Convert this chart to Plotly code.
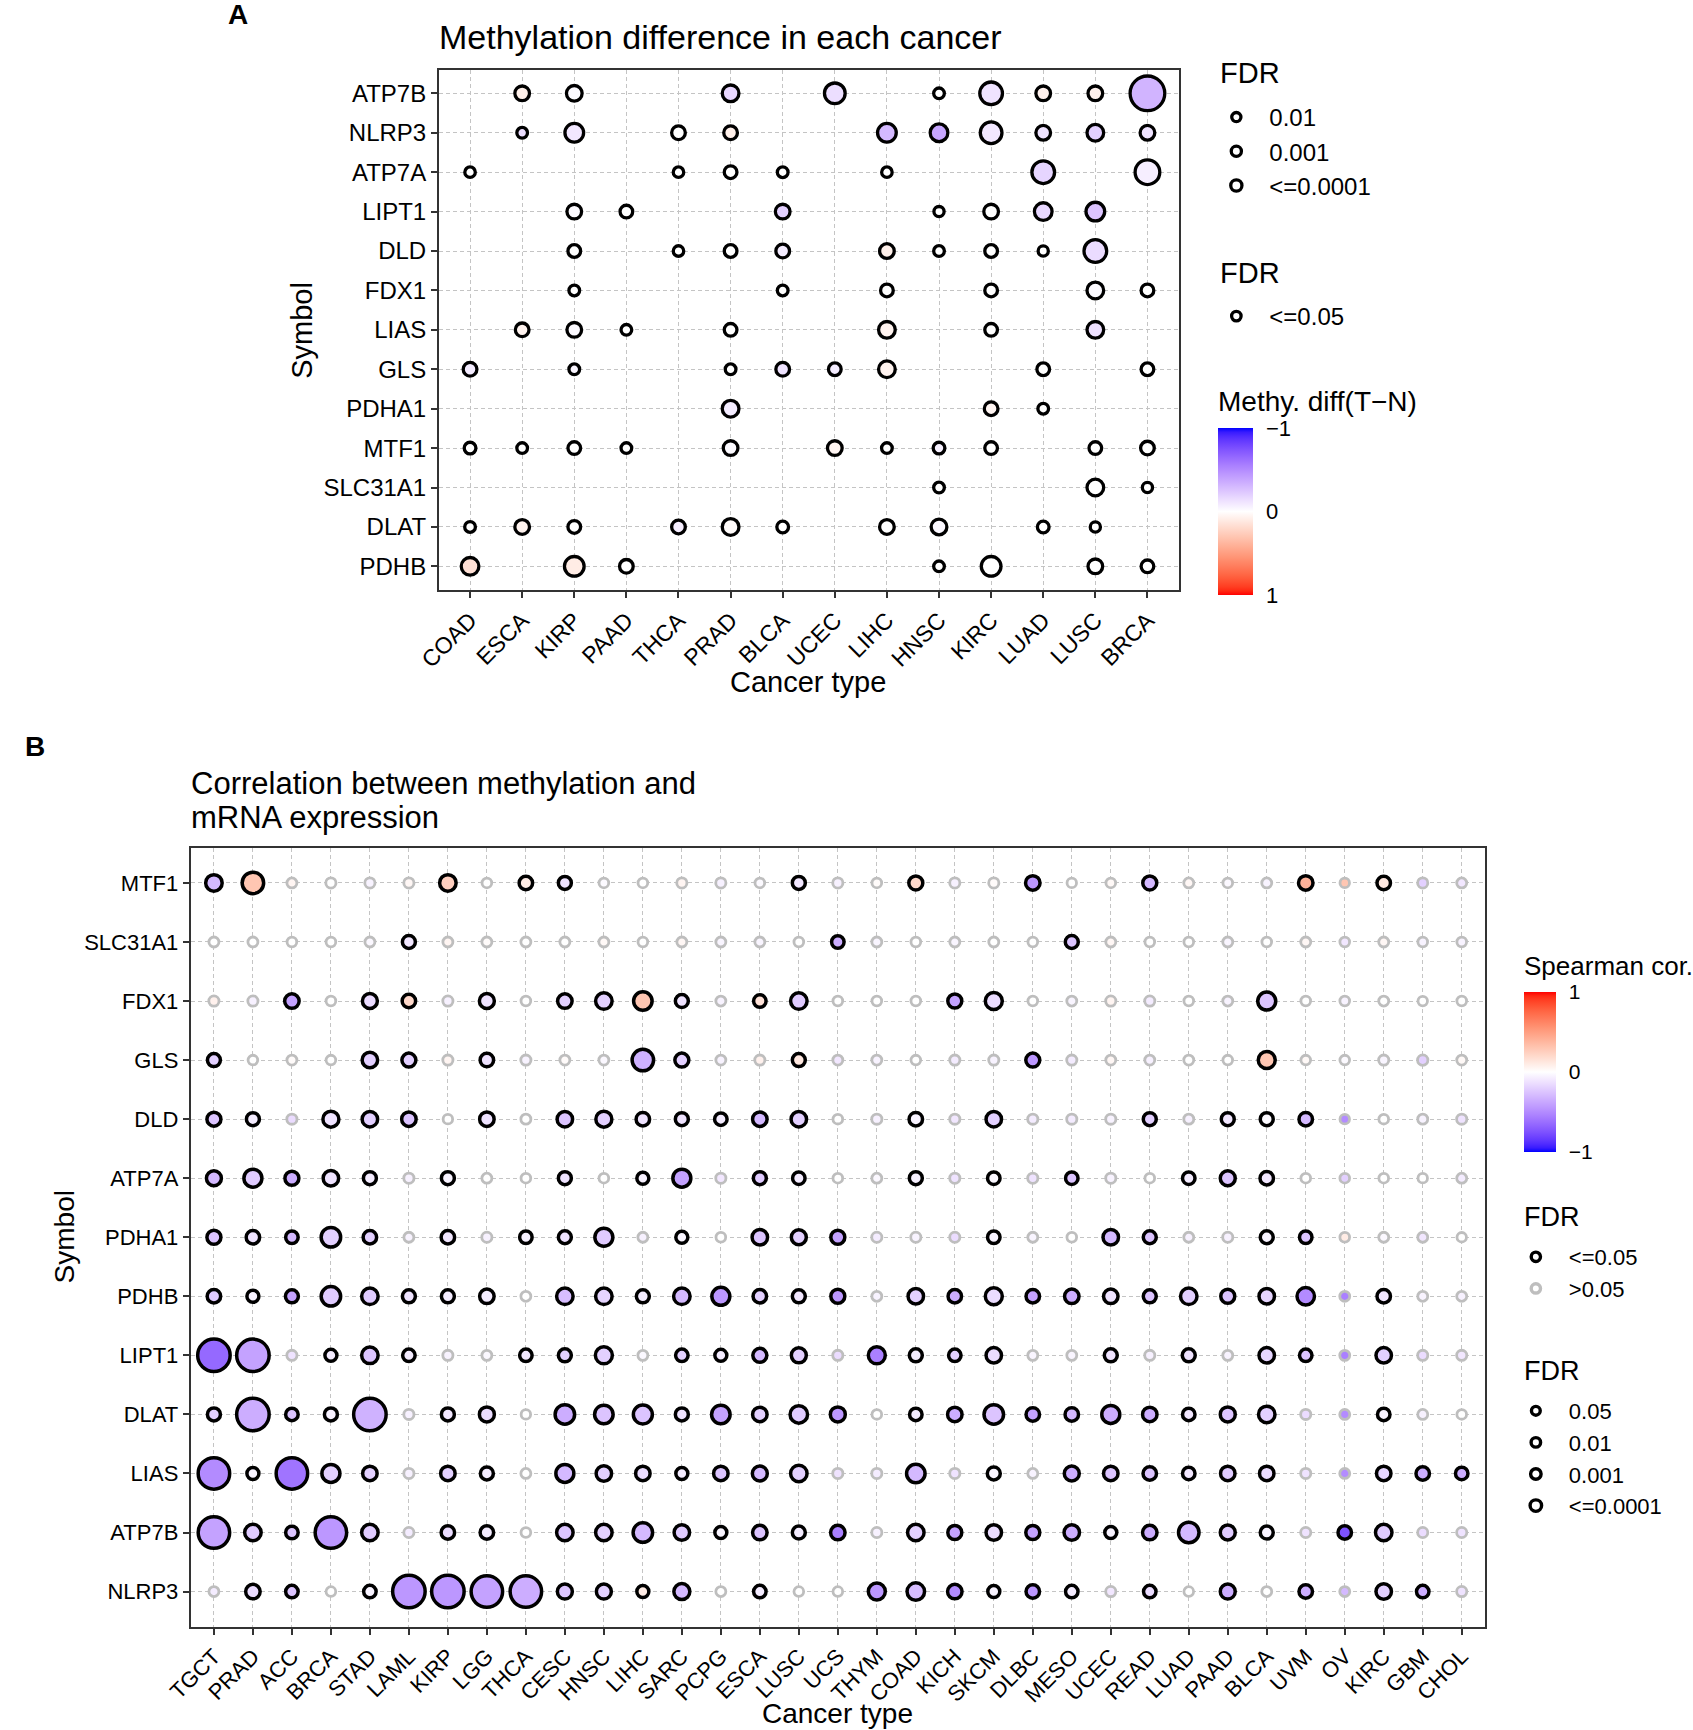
import math
import plotly.graph_objects as go

# ---------------- data: panel A (methylation difference) ----------------
genes_A = ["ATP7B", "NLRP3", "ATP7A", "LIPT1", "DLD", "FDX1", "LIAS", "GLS",
           "PDHA1", "MTF1", "SLC31A1", "DLAT", "PDHB"]
cancers_A = ["COAD", "ESCA", "KIRP", "PAAD", "THCA", "PRAD", "BLCA", "UCEC",
             "LIHC", "HNSC", "KIRC", "LUAD", "LUSC", "BRCA"]
N = None
diff_A = [
    [N, 0.08, -0.02, N, N, -0.17, N, -0.14, N, 0.00, -0.12, 0.07, 0.07, -0.32],
    [N, -0.14, -0.10, N, 0.00, 0.08, N, N, -0.30, -0.38, -0.10, -0.12, -0.20, -0.12],
    [0.00, N, N, N, 0.00, 0.00, 0.00, N, 0.00, N, N, -0.18, N, -0.07],
    [N, N, -0.02, 0.00, N, N, -0.20, N, N, 0.00, 0.00, -0.17, -0.25, N],
    [N, N, 0.00, N, 0.00, 0.00, -0.08, N, 0.08, 0.00, 0.00, 0.00, -0.15, N],
    [N, N, 0.00, N, N, N, 0.00, N, 0.00, N, 0.00, N, -0.02, 0.00],
    [N, 0.06, -0.02, 0.00, N, 0.00, N, N, 0.06, N, 0.00, N, -0.13, N],
    [-0.08, N, -0.04, N, N, 0.00, -0.12, -0.08, 0.06, N, N, 0.00, N, 0.00],
    [N, N, N, N, N, -0.08, N, N, N, N, 0.05, 0.00, N, N],
    [0.00, 0.00, 0.00, 0.00, N, -0.02, N, 0.05, 0.00, -0.06, 0.00, N, 0.00, 0.00],
    [N, N, N, N, N, N, N, N, N, 0.00, N, N, 0.00, 0.00],
    [0.00, 0.06, 0.00, N, -0.07, 0.02, 0.00, N, 0.00, -0.03, N, 0.00, 0.00, N],
    [0.16, N, 0.10, 0.00, N, N, N, N, N, 0.00, 0.00, N, 0.00, 0.00],
]
# -log10(FDR)
neglogfdr_A = [
    [N, 6, 7, N, N, 8, N, 12, N, 2, 14, 6, 6, 26],
    [N, 2, 10, N, 5, 5, N, N, 10, 9, 13, 6, 8, 6],
    [1.8, N, N, N, 1.8, 4, 2, N, 1.8, N, N, 14, N, 16],
    [N, N, 6, 4, N, N, 6, N, N, 1.5, 6, 9, 10, N],
    [N, N, 4, N, 1.8, 4, 5, N, 6, 2, 4, 1.5, 14, N],
    [N, N, 2, N, N, N, 2, N, 4, N, 4, N, 8, 4],
    [N, 5, 6, 2, N, 4, N, N, 8, N, 4, N, 8, N],
    [5, N, 2, N, N, 2, 5, 4, 8, N, N, 4, N, 4],
    [N, N, N, N, N, 8, N, N, N, N, 5, 2, N, N],
    [3, 2, 4, 2, N, 6, N, 6, 2, 3, 4, N, 4, 5],
    [N, N, N, N, N, N, N, N, N, 2, N, N, 8, 1.5],
    [2, 6, 4, N, 5, 8, 3, N, 6, 7, N, 3, 1.5, N],
    [9, N, 11, 5, N, N, N, N, N, 2, 11, N, 6, 4],
]
fdr_breaks_A1 = [0.01, 0.001, 0.0001]
fdr_labels_A1 = ["0.01", "0.001", "<=0.0001"]
fdr_labels_A2 = ["<=0.05"]

# ---------------- data: panel B (methylation vs mRNA correlation) ----------------
genes_B = ["MTF1", "SLC31A1", "FDX1", "GLS", "DLD", "ATP7A", "PDHA1", "PDHB",
           "LIPT1", "DLAT", "LIAS", "ATP7B", "NLRP3"]
cancers_B = ["TGCT", "PRAD", "ACC", "BRCA", "STAD", "LAML", "KIRP", "LGG", "THCA",
             "CESC", "HNSC", "LIHC", "SARC", "PCPG", "ESCA", "LUSC", "UCS", "THYM",
             "COAD", "KICH", "SKCM", "DLBC", "MESO", "UCEC", "READ", "LUAD", "PAAD",
             "BLCA", "UVM", "OV", "KIRC", "GBM", "CHOL"]
cor_B = [
    [-0.30, 0.30, 0.05, 0.00, -0.05, 0.04, 0.25, 0.00, 0.10, -0.12, -0.02, 0.00, 0.05, -0.06, -0.02, -0.10, -0.06,
     0.02, 0.20, -0.06, 0.02, -0.45, 0.00, 0.03, -0.30, 0.04, -0.03, -0.05, 0.40, 0.30, 0.12, -0.20, -0.10],
    [0.00, 0.00, 0.00, 0.00, -0.03, -0.10, 0.05, 0.02, 0.00, 0.00, 0.03, 0.00, 0.04, -0.04, -0.04, 0.00, -0.35,
     -0.04, 0.00, -0.04, 0.00, 0.00, -0.25, 0.04, 0.00, 0.00, -0.04, 0.00, 0.04, -0.10, 0.04, -0.05, -0.05],
    [0.07, -0.06, -0.40, 0.00, -0.15, 0.20, -0.06, -0.12, 0.00, -0.20, -0.20, 0.30, -0.12, -0.05, 0.15, -0.22, 0.00,
     0.00, 0.00, -0.40, -0.15, 0.00, -0.04, 0.05, -0.08, 0.00, -0.05, -0.25, 0.00, -0.05, 0.00, 0.00, 0.00],
    [-0.20, 0.00, 0.02, 0.00, -0.20, -0.20, 0.05, -0.12, -0.05, 0.02, -0.03, -0.33, -0.20, -0.05, 0.07, 0.12, -0.10,
     -0.05, 0.00, -0.08, -0.05, -0.45, -0.08, 0.04, -0.06, 0.00, 0.00, 0.30, 0.03, -0.02, -0.04, -0.20, 0.03],
    [-0.25, -0.08, -0.15, -0.12, -0.20, -0.25, 0.00, -0.12, 0.00, -0.25, -0.20, -0.12, -0.12, -0.08, -0.30, -0.20, 0.00,
     -0.06, -0.05, -0.10, -0.20, -0.08, -0.08, -0.05, -0.20, -0.06, -0.10, -0.02, -0.30, -0.50, 0.00, -0.05, -0.12],
    [-0.30, -0.22, -0.35, -0.12, -0.08, -0.06, -0.05, 0.00, 0.00, -0.12, 0.00, -0.06, -0.40, -0.10, -0.22, -0.08, 0.00,
     -0.03, -0.06, -0.12, -0.03, -0.12, -0.25, -0.05, 0.00, -0.08, -0.25, -0.10, 0.00, -0.20, 0.00, 0.00, -0.08],
    [-0.25, -0.12, -0.30, -0.20, -0.20, -0.05, -0.10, -0.06, -0.06, -0.12, -0.22, -0.06, -0.04, 0.00, -0.25, -0.20, -0.40,
     -0.08, -0.05, -0.15, -0.05, -0.04, 0.00, -0.30, -0.25, -0.06, -0.06, -0.05, -0.25, 0.10, -0.03, -0.10, 0.00],
    [-0.22, -0.06, -0.40, -0.22, -0.22, -0.12, -0.08, -0.08, 0.00, -0.28, -0.18, -0.08, -0.30, -0.45, -0.20, -0.10, -0.45,
     -0.05, -0.20, -0.35, -0.15, -0.40, -0.35, -0.12, -0.25, -0.20, -0.25, -0.18, -0.50, -0.55, -0.10, -0.05, -0.06],
    [-0.65, -0.40, -0.12, -0.08, -0.25, -0.08, -0.05, -0.03, -0.10, -0.20, -0.20, -0.03, -0.20, -0.08, -0.30, -0.20, -0.15,
     -0.55, -0.08, -0.20, -0.15, -0.04, -0.04, -0.12, -0.06, -0.12, -0.05, -0.18, -0.25, -0.55, -0.20, -0.15, -0.10],
    [-0.20, -0.35, -0.25, -0.06, -0.33, -0.06, -0.10, -0.15, 0.00, -0.35, -0.25, -0.25, -0.12, -0.40, -0.20, -0.22, -0.45,
     0.00, -0.08, -0.35, -0.25, -0.40, -0.30, -0.35, -0.35, -0.10, -0.25, -0.20, -0.15, -0.50, -0.05, -0.06, 0.00],
    [-0.50, -0.05, -0.60, -0.20, -0.20, -0.06, -0.20, -0.08, 0.00, -0.30, -0.20, -0.15, -0.08, -0.25, -0.30, -0.20, -0.12,
     -0.08, -0.30, -0.12, -0.04, -0.05, -0.35, -0.25, -0.25, -0.10, -0.22, -0.15, -0.12, -0.50, -0.18, -0.35, -0.35],
    [-0.40, -0.22, -0.25, -0.45, -0.22, -0.08, -0.15, -0.08, 0.00, -0.25, -0.20, -0.30, -0.22, -0.04, -0.25, -0.08, -0.55,
     -0.06, -0.20, -0.40, -0.15, -0.40, -0.35, -0.05, -0.35, -0.30, -0.22, -0.05, -0.12, -0.75, -0.22, -0.15, -0.12],
    [-0.08, -0.15, -0.25, 0.00, -0.05, -0.45, -0.45, -0.40, -0.35, -0.25, -0.20, 0.10, -0.30, 0.00, -0.08, 0.00, 0.00,
     -0.45, -0.28, -0.50, -0.05, -0.45, -0.08, -0.10, -0.15, 0.00, -0.35, 0.00, -0.35, -0.30, -0.20, -0.35, -0.12],
]
neglogfdr_B = [
    [8, 13, 0.8, 1.0, 1.0, 1.0, 8, 0.5, 5, 4.5, 0.5, 0.5, 1.0, 1.0, 0.5, 4.5, 1.0,
     0.5, 5.5, 1.0, 1.0, 6, 0.3, 0.5, 5.5, 0.8, 0.5, 0.8, 6, 0.3, 5, 1.0, 0.8],
    [0.8, 0.8, 0.5, 0.5, 0.8, 4.5, 0.8, 0.8, 0.8, 0.8, 0.8, 0.5, 0.8, 0.8, 0.8, 0.5, 4,
     0.8, 0.5, 0.8, 0.8, 0.5, 4.5, 0.8, 0.5, 0.5, 0.8, 0.5, 0.8, 0.5, 0.8, 0.5, 0.5],
    [1.0, 1.0, 6, 0.5, 6.5, 5, 1.0, 6.5, 0.5, 6, 8, 10, 4.5, 0.8, 4, 8, 0.5,
     0.5, 0.5, 5.5, 8.5, 0.5, 0.8, 1.0, 1.0, 0.5, 0.8, 9.5, 0.5, 0.5, 0.8, 0.3, 0.5],
    [4.5, 0.5, 0.8, 0.5, 7, 5.5, 1.0, 5, 1.0, 0.8, 0.8, 13, 5.5, 0.8, 1.0, 4.5, 0.8,
     0.8, 0.5, 1.0, 1.0, 5.5, 1.0, 0.8, 0.8, 0.8, 0.5, 8.5, 0.5, 0.5, 1.0, 1.2, 0.8],
    [5.5, 4.5, 1.0, 7.5, 7, 6, 0.3, 6, 0.8, 7, 7.5, 5, 4.5, 4, 6, 7, 0.5,
     1.0, 5, 1.0, 7, 1.0, 1.0, 1.0, 4.5, 0.8, 4.5, 4.5, 5, 0.3, 0.5, 0.8, 1.0],
    [6.5, 9.5, 5.5, 7, 4.5, 1.0, 4.5, 0.8, 0.5, 4.5, 0.5, 3.5, 9.5, 1.0, 4.5, 4, 0.5,
     0.8, 4.5, 1.0, 4, 1.0, 4, 1.0, 0.5, 4, 6.5, 5, 0.5, 0.5, 0.5, 0.3, 0.8],
    [5.5, 5, 4, 11, 5, 0.8, 5, 1.0, 4, 4.5, 9.5, 0.8, 3.5, 0.5, 7, 6.5, 5.5,
     1.0, 1.0, 1.0, 4, 0.8, 0.5, 7, 4.5, 0.8, 1.0, 4.5, 4, 0.5, 0.8, 0.8, 0.3],
    [5, 3.5, 4.5, 11, 8, 4.5, 4.5, 6, 0.8, 8, 8, 4.5, 8, 9.5, 5, 4.5, 5.5,
     0.8, 7, 5, 8.5, 5, 6, 6, 4.5, 8, 5.5, 7, 9, 0.8, 5, 0.8, 0.8],
    [24, 24, 1.0, 3.5, 8, 4, 1.0, 0.8, 4, 4.5, 8.5, 0.8, 4, 3.5, 5.5, 6.5, 1.0,
     8.5, 4.5, 4, 7, 0.8, 0.8, 4.5, 1.0, 4.5, 0.8, 7, 4, 0.8, 7, 1.0, 1.0],
    [4.5, 24, 4, 4.5, 24, 1.0, 4.5, 6.5, 0.3, 11, 10, 10.5, 4.5, 10, 6, 9, 6.5,
     0.5, 4, 6, 11, 5, 5, 9.5, 6, 4, 6.5, 8, 1.0, 0.8, 4, 0.8, 0.5],
    [23, 3.5, 23, 9.5, 6, 1.0, 6, 4.5, 0.8, 9.5, 7, 6, 3.5, 6, 6.5, 8, 1.0,
     1.0, 10, 1.0, 4.5, 0.8, 6.5, 6, 5, 4, 6, 6, 1.0, 0.8, 6, 5, 4],
    [23, 8, 4, 23, 8, 1.0, 5, 5, 0.5, 8, 8, 11, 7, 3.5, 6, 4.5, 6,
     1.0, 8, 5.5, 7, 5.5, 7, 3.5, 6, 12, 6.5, 4.5, 1.0, 5, 8, 1.0, 1.0],
    [0.8, 6, 4, 0.5, 4, 24, 24, 23, 23, 6.5, 6.5, 3.5, 7.5, 0.8, 4, 0.5, 0.5,
     8.5, 9, 6, 3.5, 5, 4, 1.0, 4, 0.5, 6.5, 0.8, 5, 0.8, 7, 4, 1.0],
]
sig_labels_B = ["<=0.05", ">0.05"]
fdr_breaks_B = [0.05, 0.01, 0.001, 0.0001]
fdr_labels_B = ["0.05", "0.01", "0.001", "<=0.0001"]

# ---------------- styling helpers ----------------
W, H = 1693, 1730
FONT = "Liberation Sans, Arial, Helvetica, sans-serif"
SIG_LEVEL = -math.log10(0.05)


def px_x(x):
    return x / W


def px_y(y):
    return 1 - y / H


def _hex_rgb(h):
    h = h.lstrip("#")
    return [int(h[i:i + 2], 16) / 255 for i in (0, 2, 4)]


def _lin(c):
    return c / 12.92 if c <= 0.04045 else ((c + 0.055) / 1.055) ** 2.4


def _gam(c):
    c = 12.92 * c if c <= 0.0031308 else 1.055 * c ** (1 / 2.4) - 0.055
    return min(1, max(0, c))


def _f(t):
    d = 6 / 29
    return t ** (1 / 3) if t > d ** 3 else t / (3 * d * d) + 4 / 29


def _finv(t):
    d = 6 / 29
    return t ** 3 if t > d else 3 * d * d * (t - 4 / 29)


def to_lab(h):
    r, g, b = [_lin(c) for c in _hex_rgb(h)]
    X = (0.4124564 * r + 0.3575761 * g + 0.1804375 * b) / 0.95047
    Y = 0.2126729 * r + 0.7151522 * g + 0.0721750 * b
    Z = (0.0193339 * r + 0.1191920 * g + 0.9503041 * b) / 1.08883
    fx, fy, fz = _f(X), _f(Y), _f(Z)
    return (116 * fy - 16, 500 * (fx - fy), 200 * (fy - fz))


def from_lab(L, a, b):
    fy = (L + 16) / 116
    fx = fy + a / 500
    fz = fy - b / 200
    X, Y, Z = _finv(fx) * 0.95047, _finv(fy), _finv(fz) * 1.08883
    r = 3.2404542 * X - 1.5371385 * Y - 0.4985314 * Z
    g = -0.9692660 * X + 1.8760108 * Y + 0.0415560 * Z
    bb = 0.0556434 * X - 0.2040259 * Y + 1.0572252 * Z
    return "rgb(%d,%d,%d)" % tuple(round(_gam(c) * 255) for c in (r, g, bb))


LAB_LOW, LAB_MID, LAB_HIGH = to_lab("#0000FF"), to_lab("#FFFFFF"), to_lab("#FF0000")


def div_color(v):
    end = LAB_LOW if v < 0 else LAB_HIGH
    t = min(1.0, abs(v))
    return from_lab(*[m + (e - m) * t for m, e in zip(LAB_MID, end)])


NSTOP = 40
# panel B colour value = correlation (-1 bottom, 1 top)
scale_B = [[k / NSTOP, div_color(-1 + 2 * k / NSTOP)] for k in range(NSTOP + 1)]
# panel A colour value = -difference so that -1 sits at the top of the bar
scale_A = [[k / NSTOP, div_color(1 - 2 * k / NSTOP)] for k in range(NSTOP + 1)]


def outer_diam(nl):
    return 12.0 + nl


LW_A = 3.3
LW_B_SIG = 3.5
LW_B_NS = 2.8
GREY = "#BEBEBE"

fig = go.Figure()

# ---------------- panel A points ----------------
xa, ya, ca, sa, ta = [], [], [], [], []
for i, g in enumerate(genes_A):
    for j, c in enumerate(cancers_A):
        v = diff_A[i][j]
        if v is None:
            continue
        xa.append(c)
        ya.append(g)
        ca.append(-v)
        sa.append(outer_diam(neglogfdr_A[i][j]) - LW_A)
        ta.append("%s %s: diff=%.2f" % (g, c, v))

fig.add_trace(go.Scatter(
    x=xa, y=ya, mode="markers", xaxis="x", yaxis="y", showlegend=False,
    text=ta, hoverinfo="text",
    marker=dict(
        size=sa, color=ca, colorscale=scale_A, cmin=-1, cmax=1, opacity=1,
        line=dict(color="black", width=LW_A),
        showscale=True,
        colorbar=dict(
            x=px_x(1211), xanchor="left", xpad=0,
            y=px_y(428), yanchor="top", ypad=0,
            len=167, lenmode="pixels", thickness=35, thicknessmode="pixels",
            tickvals=[-1, 0, 1], ticktext=["1", "0", "\u22121"],
            ticks="outside", ticklen=9, tickcolor="rgba(0,0,0,0)",
            tickfont=dict(size=22, family=FONT, color="black"),
            outlinewidth=0,
        ),
    ),
))

# ---------------- panel B points ----------------
xb, yb, cb, sb, lwb, lcb, tb = [], [], [], [], [], [], []
for i, g in enumerate(genes_B):
    for j, c in enumerate(cancers_B):
        nl = neglogfdr_B[i][j]
        sig = nl >= SIG_LEVEL
        lw = LW_B_SIG if sig else LW_B_NS
        xb.append(c)
        yb.append(g)
        cb.append(cor_B[i][j])
        sb.append(outer_diam(nl) - lw)
        lwb.append(lw)
        lcb.append("black" if sig else GREY)
        tb.append("%s %s: cor=%.2f" % (g, c, cor_B[i][j]))

fig.add_trace(go.Scatter(
    x=xb, y=yb, mode="markers", xaxis="x2", yaxis="y2", showlegend=False,
    text=tb, hoverinfo="text",
    marker=dict(
        size=sb, color=cb, colorscale=scale_B, cmin=-1, cmax=1, opacity=1,
        line=dict(color=lcb, width=lwb),
        showscale=True,
        colorbar=dict(
            x=px_x(1521), xanchor="left", xpad=0,
            y=px_y(992), yanchor="top", ypad=0,
            len=160, lenmode="pixels", thickness=32, thicknessmode="pixels",
            tickvals=[-1, 0, 1], ticktext=["\u22121", "0", "1"],
            ticks="outside", ticklen=9, tickcolor="rgba(0,0,0,0)",
            tickfont=dict(size=21, family=FONT, color="black"),
            outlinewidth=0,
        ),
    ),
))

# ---------------- legend entries ----------------
def legend_entry(name, legend, size, lw, color, axes):
    fig.add_trace(go.Scatter(
        x=[None], y=[None], mode="markers", name=name, legend=legend,
        legendgroup=legend + name,
        xaxis=axes[0], yaxis=axes[1], showlegend=True, hoverinfo="skip",
        marker=dict(size=size, color="white", opacity=1,
                    line=dict(color=color, width=lw)),
    ))


for f, lab in zip(fdr_breaks_A1, fdr_labels_A1):
    legend_entry(lab, "legend", outer_diam(-math.log10(f)) - LW_A - 1.5, 3.3, "black", ("x", "y"))
for lab in fdr_labels_A2:
    legend_entry(lab, "legend2", outer_diam(SIG_LEVEL) - LW_A - 0.5, 3.3, "black", ("x", "y"))
for lab, col in zip(sig_labels_B, ["black", GREY]):
    legend_entry(lab, "legend3", outer_diam(SIG_LEVEL) - LW_B_SIG - 0.5, 3.4, col, ("x2", "y2"))
for f, lab in zip(fdr_breaks_B, fdr_labels_B):
    legend_entry(lab, "legend4", outer_diam(-math.log10(f)) - LW_B_SIG - 1, 3.4, "black", ("x2", "y2"))


def legend_box(x_left, y_top, fsize, gap):
    return dict(
        font=dict(size=fsize, family=FONT, color="black"),
        x=px_x(x_left), xanchor="left", y=px_y(y_top), yanchor="top",
        bgcolor="rgba(0,0,0,0)", borderwidth=0, itemsizing="trace",
        itemwidth=56, traceorder="normal", tracegroupgap=gap,
    )


# ---------------- axes ----------------
def cat_axis(cats, domain, anchor, tick_size, angle=None, reverse=False):
    n = len(cats)
    rng = [n - 0.4, -0.6] if reverse else [-0.6, n - 0.4]
    d = dict(
        domain=domain, anchor=anchor, type="category",
        categoryorder="array", categoryarray=cats, range=rng,
        showgrid=True, gridcolor="#C4C4C4", gridwidth=1, griddash="4px,3px",
        showline=True, mirror=True, linecolor="#333333", linewidth=1.6,
        ticks="outside", ticklen=6, tickwidth=1.5, tickcolor="#333333",
        tickfont=dict(size=tick_size, family=FONT, color="black"),
        zeroline=False, fixedrange=True,
    )
    if angle is not None:
        d["tickangle"] = angle
    return d


fig.update_layout(
    width=W, height=H,
    margin=dict(l=0, r=0, t=0, b=0),
    paper_bgcolor="white", plot_bgcolor="white",
    font=dict(family=FONT, color="black"),
    xaxis=cat_axis(cancers_A, [px_x(420), px_x(1171)], "y", 23, angle=-45),
    yaxis=cat_axis(genes_A, [px_y(590), px_y(69.7)], "x", 24, reverse=True),
    xaxis2=cat_axis(cancers_B, [px_x(168), px_x(1482)], "y2", 22, angle=-45),
    yaxis2=cat_axis(genes_B, [px_y(1627), px_y(847.5)], "x2", 22, reverse=True),
    legend=legend_box(1196, 95, 24, 4),
    legend2=legend_box(1196, 294, 24, 4),
    legend3=legend_box(1500, 1236, 22, 2),
    legend4=legend_box(1500, 1390, 22, 2),
    hovermode="closest",
)

# ---------------- text annotations ----------------
def note(text, x, y, size, xanchor="left", yanchor="middle", angle=0, bold=False):
    fig.add_annotation(
        text="<b>%s</b>" % text if bold else text,
        x=px_x(x), y=px_y(y), xref="paper", yref="paper",
        xanchor=xanchor, yanchor=yanchor, textangle=angle, showarrow=False,
        font=dict(size=size, family=FONT, color="black"),
    )


note("A", 216, 15, 28, xanchor="center", bold=True)
note("Methylation difference in each cancer", 418, 37, 34)
note("Symbol", 281, 330, 29, xanchor="center", angle=-90)
note("Cancer type", 795, 682, 29, xanchor="center")
note("FDR", 1211, 73, 29)
note("FDR", 1211, 273, 29)
note("Methy. diff(T\u2212N)", 1209, 401, 28)

note("B", 10, 746, 28, xanchor="center", bold=True)
note("Correlation between methylation and", 166, 783, 31)
note("mRNA expression", 166, 817, 31)
note("Symbol", 40, 1237, 28, xanchor="center", angle=-90)
note("Cancer type", 825, 1713, 28, xanchor="center")
note("Spearman cor.", 1519, 966, 26)
note("FDR", 1519, 1217, 27)
note("FDR", 1519, 1371, 27)

fig.write_html(
    "out.html",
    config={"displayModeBar": False},
    post_script="document.body.style.margin='0px';"
                "document.documentElement.style.overflow='hidden';",
)
